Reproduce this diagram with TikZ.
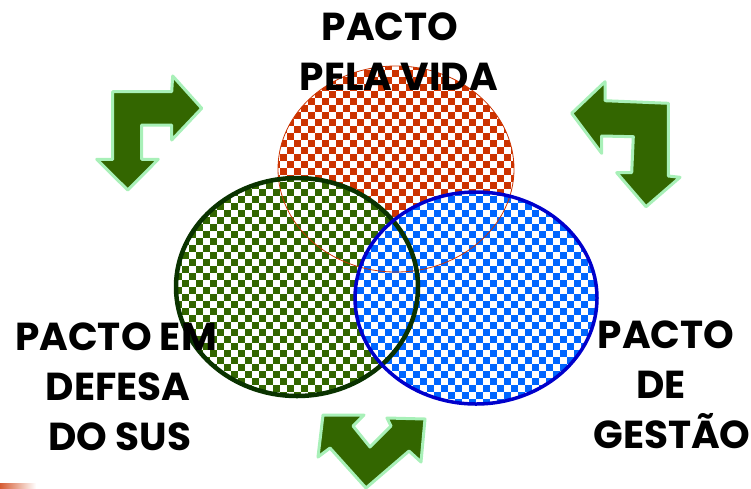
\documentclass[tikz,border=0pt]{standalone}
\usepackage{fontspec}
\setmainfont{Poppins}
\definecolor{redc}{HTML}{CC3300}
\definecolor{bluec}{HTML}{0066FF}
\definecolor{greenc}{HTML}{336600}
\definecolor{greenline}{HTML}{0A3300}
\definecolor{blueline}{HTML}{0000CC}
\definecolor{arrowfill}{HTML}{336600}
\definecolor{arrowline}{HTML}{A8F0B8}
\newcommand\mychecks[5]{%
  \foreach \i in {#2,...,#3}{\foreach \j in {#4,...,#5}{%
    \pgfmathtruncatemacro\cpar{mod(\i+\j,2)}%
    \ifnum\cpar=0 \fill[#1] ({\i*7-0.2},{\j*7-0.2}) rectangle ++(7.4,7.4);\fi}}}
\tikzset{
  bigarrow/.style={fill=arrowfill, draw=arrowline, line width=3pt, line join=round},
  label/.style={anchor=base, inner sep=0pt, font=\fontsize{39}{50}\selectfont\bfseries, text=black}
}
\begin{document}
\begin{tikzpicture}[x=1pt,y=-1pt]
\useasboundingbox (0,0) rectangle (751,488);
\fill[white] (0,0) rectangle (751,488);
% stray red smear at bottom-left
\shade[left color=redc!80, right color=white] (0,483) rectangle (36,488);
% circles: checkered fills
\begin{scope}
  \clip (396,169) ellipse [x radius=118, y radius=103];
  \mychecks{redc}{39}{74}{9}{39}
\end{scope}
\begin{scope}
  \clip (297,287) ellipse [x radius=121, y radius=109];
  \mychecks{greenc}{25}{60}{25}{57}
\end{scope}
\begin{scope}
  \clip (476,298) ellipse [x radius=121, y radius=106];
  \mychecks{bluec}{50}{86}{27}{58}
\end{scope}
% outlines
\draw[redc, line width=0.8pt] (396,169) ellipse [x radius=118, y radius=103];
\draw[greenline, line width=4.5pt] (297,287) ellipse [x radius=121, y radius=109];
\draw[blueline, line width=3.5pt] (476,298) ellipse [x radius=121, y radius=106];
% arrows
\draw[bigarrow] (112.7,91.7) -- (171.7,91.7) -- (172.7,76) -- (201.7,108.3) -- (171.7,140) -- (171.7,125) -- (141.7,125) -- (141.7,159.3) -- (158.3,159.3) -- (127.7,190) -- (96.7,159.3) -- (112.7,159.3) -- cycle;
\draw[bigarrow] (571.7,113.3) -- (605,81.7) -- (605,100.7) -- (668.3,103.3) -- (668.3,176) -- (680,177.3) -- (646,206.7) -- (616.7,172.7) -- (631.7,172.7) -- (633.3,136.7) -- (601.7,136) -- (601.7,153.3) -- cycle;
\draw[bigarrow] (323,415) -- (364,415) -- (353,426) -- (370,447) -- (391,426) -- (387,418) -- (425,419) -- (421,462) -- (409,451) -- (366,488) -- (330,448) -- (318,457) -- cycle;
% labels
\node[label] (t1) at (390,40) {PACTO};
\node[label] (t2) at (399,90) {PELA VIDA};
\node[label] (l1) at (116,350) {PACTO EM};
\node[label] (l2) at (118,400) {DEFESA};
\node[label] (l3) at (120,450) {DO SUS};
\node[label] (r1) at (666,348) {PACTO};
\node[label] (r2) at (661,398) {DE};
\node[label] (r3) at (672,448) {GESTÃO};
\end{tikzpicture}
\end{document}
